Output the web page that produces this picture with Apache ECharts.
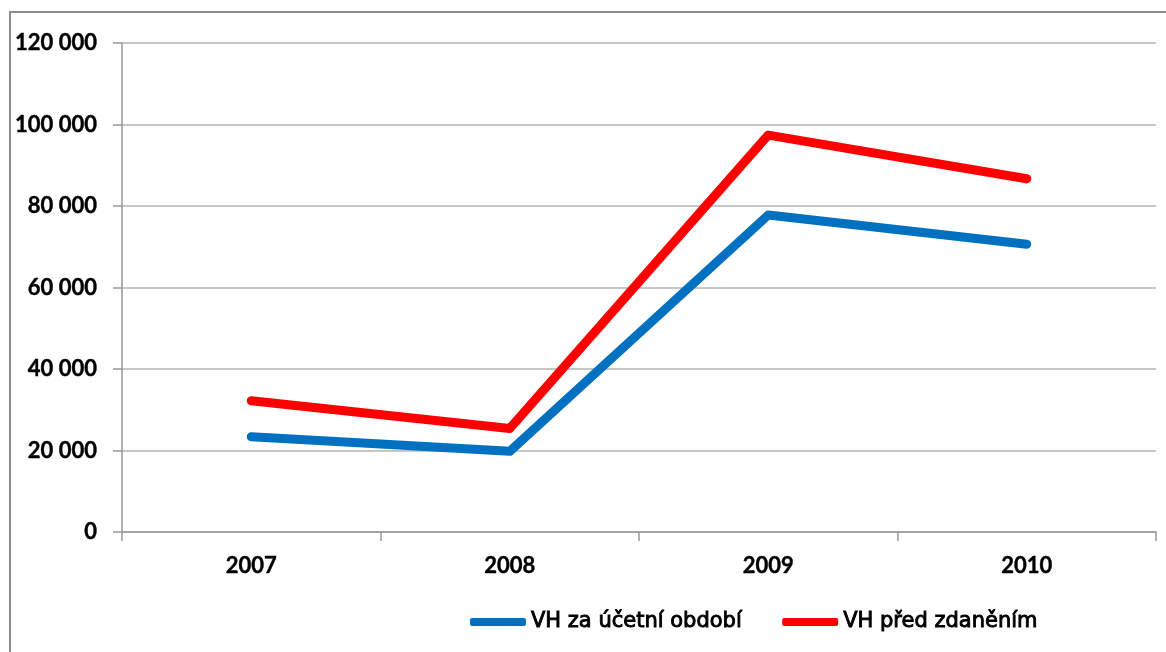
<!DOCTYPE html>
<html>
<head>
<meta charset="utf-8">
<script src="https://cdn.jsdelivr.net/npm/echarts@6/dist/echarts.min.js"></script>
<style>
  html, body { margin: 0; padding: 0; background: #fff; }
  #chart { width: 1166px; height: 652px; }
</style>
</head>
<body>
<div id="chart"></div>
<script>
// Years on the category axis
const years = ['2007', '2008', '2009', '2010'];
// Profit after tax for the period
const vhZaObdobi = [23400, 19800, 77800, 70600];
// Profit before tax
const vhPredZdanenim = [32200, 25400, 97400, 86700];
// Value axis range
const yMin = 0, yMax = 120000, yStep = 20000;

const AXIS_FONT = 'Lato, "Open Sans", sans-serif';
const LEGEND_FONT = '"DejaVu Sans", sans-serif';

function fmtThousands(v) {
  return String(v).replace(/\B(?=(\d{3})+(?!\d))/g, ' ');
}

const chart = echarts.init(document.getElementById('chart'), null, { renderer: 'canvas' });

chart.setOption({
  backgroundColor: '#ffffff',
  animation: false,
  graphic: [{
    type: 'rect',
    shape: { x: 10, y: 12, width: 1180, height: 680 },
    style: { fill: 'none', stroke: '#8c8c8c', lineWidth: 2 },
    silent: true,
    z: -1
  }],
  grid: { left: 122, top: 43, right: 10, bottom: 120, containLabel: false },
  legend: {
    left: 465,
    top: 606,
    itemWidth: 56,
    itemHeight: 8,
    itemGap: 40,
    icon: 'roundRect',
    textStyle: {
      fontFamily: LEGEND_FONT, fontSize: 21, color: '#000',
      textBorderColor: '#000', textBorderWidth: 0.9
    },
    data: ['VH za účetní období', 'VH před zdaněním']
  },
  xAxis: {
    type: 'category',
    data: years,
    boundaryGap: true,
    axisLine: { show: true, lineStyle: { color: '#999', width: 1.5 } },
    axisTick: { show: true, length: 9, lineStyle: { color: '#999', width: 1.5 } },
    axisLabel: {
      margin: 23, fontFamily: AXIS_FONT, fontSize: 22, fontWeight: 700, color: '#000',
      textBorderColor: '#000', textBorderWidth: 0.4
    },
    splitLine: { show: false }
  },
  yAxis: {
    type: 'value',
    min: yMin,
    max: yMax,
    interval: yStep,
    axisLine: { show: true, lineStyle: { color: '#999', width: 1.5 } },
    axisTick: { show: true, length: 9, lineStyle: { color: '#999', width: 1.5 } },
    axisLabel: {
      margin: 25,
      fontFamily: AXIS_FONT, fontSize: 22, fontWeight: 700, color: '#000',
      textBorderColor: '#000', textBorderWidth: 0.4,
      formatter: fmtThousands
    },
    splitLine: { show: true, lineStyle: { color: '#b3b3b3', width: 1.5 } }
  },
  series: [
    {
      name: 'VH za účetní období',
      type: 'line',
      data: vhZaObdobi,
      showSymbol: false,
      symbol: 'none',
      color: '#0070c0',
      lineStyle: { color: '#0070c0', width: 9, cap: 'round', join: 'round' }
    },
    {
      name: 'VH před zdaněním',
      type: 'line',
      data: vhPredZdanenim,
      showSymbol: false,
      symbol: 'none',
      color: '#ff0000',
      lineStyle: { color: '#ff0000', width: 9, cap: 'round', join: 'round' }
    }
  ]
});
</script>
</body>
</html>
